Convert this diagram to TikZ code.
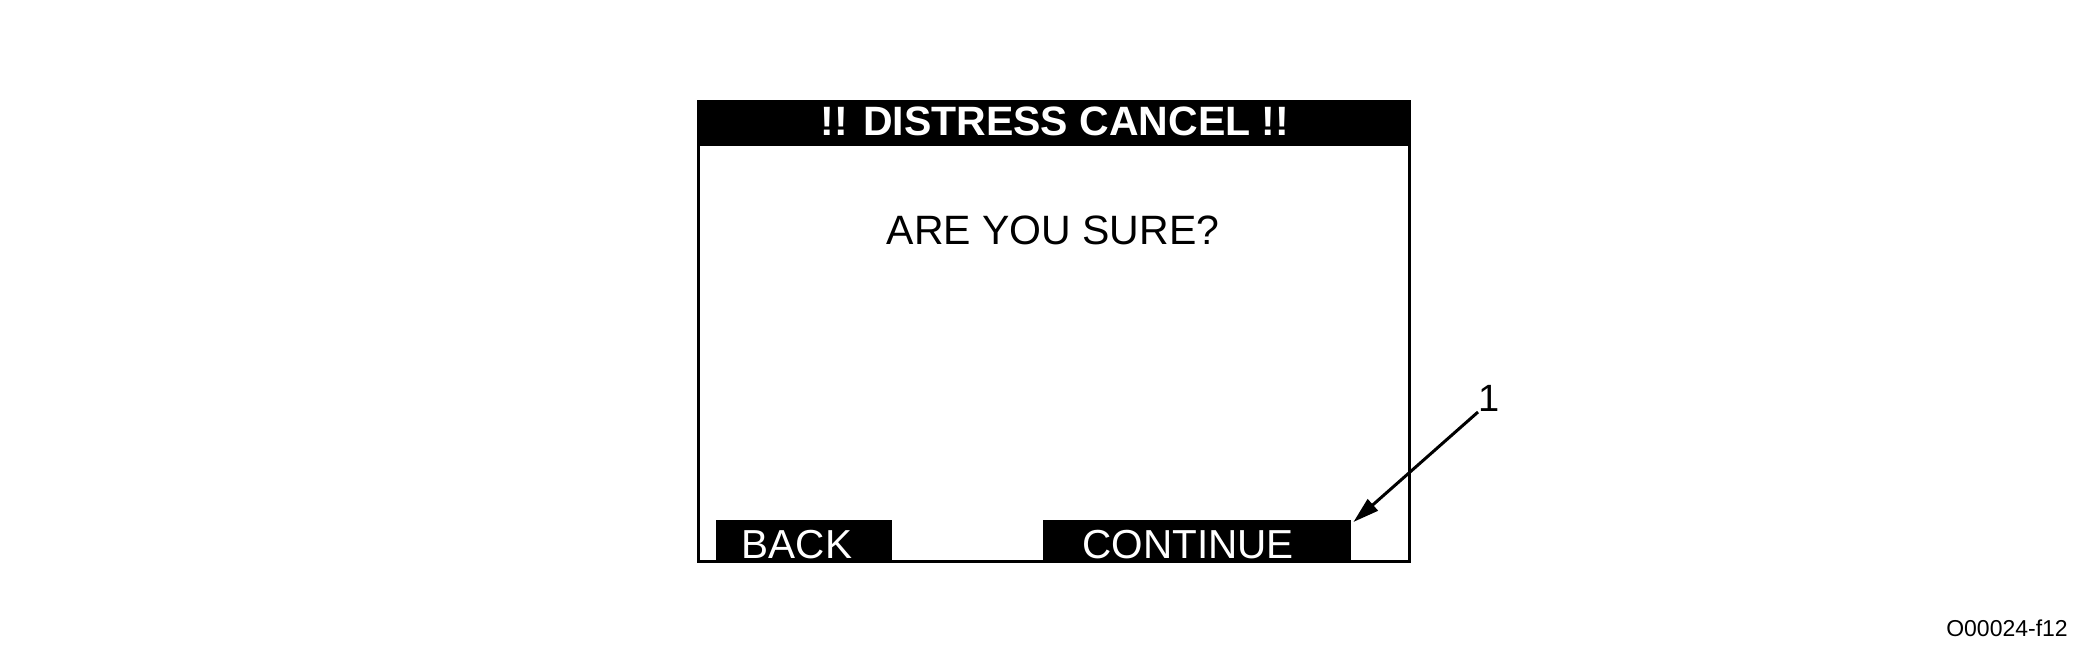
\documentclass[tikz,border=0pt]{standalone}
\usepackage{fontspec}
\setmainfont{Liberation Sans}
\usetikzlibrary{arrows.meta}
\tikzset{
  blk/.style={fill=black, draw=none, inner sep=0pt, anchor=north west},
  txt/.style={inner sep=0pt, anchor=base},
  big/.style={font=\fontsize{40.5}{44}\selectfont},
}
\begin{document}
\begin{tikzpicture}[x=1pt,y=-1pt]
\useasboundingbox (0,0) rectangle (2100,653);
% header bar
\node[blk, minimum width=711pt, minimum height=46pt] (hdr) at (697,100) {};
% buttons
\node[blk, minimum width=176pt, minimum height=40pt] (back) at (716,520) {};
\node[blk, minimum width=308pt, minimum height=40pt] (cont) at (1043,520) {};
% outer frame
\node[draw=black, line width=3pt, inner sep=0pt, anchor=north west, minimum width=711pt, minimum height=460pt] (frame) at (697,100) {};
% texts
\node[txt, text=white, font=\fontsize{41}{45}\selectfont\bfseries] (title) at (1055,135) {!! DISTRESS CANCEL !!};
\node[txt, font=\fontsize{41}{45}\selectfont] (ask) at (1053,244) {ARE YOU SURE?};
\node[txt, big, text=white] (backt) at (797,558) {BACK};
\node[txt, big, text=white] (contt) at (1188,558) {CONTINUE};
\node[txt, font=\fontsize{38}{42}\selectfont] (one) at (1489,411) {1};
\node[txt, font=\fontsize{23}{26}\selectfont] (code) at (2007,636) {O00024-f12};
% leader
\coordinate (tail) at (1478,412);
\draw[line width=3pt, -{Triangle[length=26pt,width=15pt]}] (tail) -- ([xshift=2pt,yshift=-2pt]cont.north east);
\end{tikzpicture}
\end{document}
